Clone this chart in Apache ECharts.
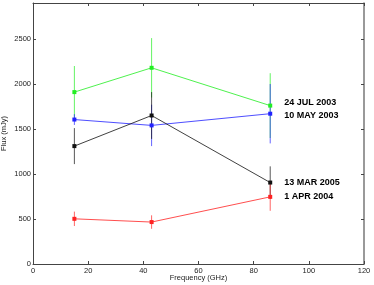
<!DOCTYPE html>
<html><head><meta charset="utf-8">
<script src="https://cdn.jsdelivr.net/npm/echarts@6/dist/echarts.min.js"></script>
<style>html,body{margin:0;padding:0;background:#fff}#c{width:374px;height:285px}</style>
</head><body><div id="c"></div>
<script>
const freqs = [15, 43, 86];
const jul2003 = [1910, 2180, 1760];
const jul2003Err = [290, 330, 360];
const may2003 = [1605, 1540, 1670];
const may2003Err = [60, 230, 330];
const mar2005 = [1310, 1650, 905];
const mar2005Err = [200, 260, 180];
const apr2004 = [502, 466, 746];
const apr2004Err = [80, 75, 155];
const xTicks = [0, 20, 40, 60, 80, 100, 120];
const yTicks = [0, 500, 1000, 1500, 2000, 2500];

const groups = [
  {name: '24 JUL 2003', v: jul2003, e: jul2003Err, color: '#22ee22', off: [0, -3]},
  {name: '10 MAY 2003', v: may2003, e: may2003Err, color: '#2222ff', off: [0, 2]},
  {name: '13 MAR 2005', v: mar2005, e: mar2005Err, color: '#111111', off: [0, 0]},
  {name: '1 APR 2004', v: apr2004, e: apr2004Err, color: '#ff2222', off: [0, 0]}
];
const font = 'Liberation Sans, Arial, sans-serif';
const series = [];
groups.forEach(g => {
  series.push({
    type: 'custom',
    data: freqs.map((f, i) => [f, g.v[i] - g.e[i], g.v[i] + g.e[i]]),
    renderItem: (params, api) => {
      const p1 = api.coord([api.value(0), api.value(1)]);
      const p2 = api.coord([api.value(0), api.value(2)]);
      return {type: 'line', shape: {x1: p1[0], y1: p1[1], x2: p2[0], y2: p2[1]},
        style: {stroke: g.color, lineWidth: 1, opacity: 0.7}};
    },
    z: 2
  });
  series.push({
    type: 'line',
    name: g.name,
    data: freqs.map((f, i) => [f, g.v[i]]),
    symbol: 'rect',
    symbolSize: 4,
    lineStyle: {color: g.color, width: 1, opacity: 0.8},
    itemStyle: {color: g.color, opacity: 1},
    z: 3,
    label: {
      show: true,
      formatter: p => p.dataIndex === freqs.length - 1 ? g.name : '',
      position: 'right',
      distance: 12,
      offset: g.off,
      fontFamily: font,
      fontWeight: 'bold',
      fontSize: 9,
      color: '#000'
    }
  });
});
const tickStyle = {show: true, inside: true, length: 3, lineStyle: {color: '#444'}};
const chart = echarts.init(document.getElementById('c'));
chart.setOption({
  animation: false,
  grid: {left: 33, right: 10, top: 3, bottom: 21, outerBoundsMode: 'none', containLabel: false},
  xAxis: [{
    type: 'value', min: xTicks[0], max: xTicks[xTicks.length - 1], interval: 20,
    name: 'Frequency (GHz)', nameLocation: 'middle', nameGap: 10, nameMoveOverlap: false,
    nameTextStyle: {fontFamily: font, fontSize: 7.5, color: '#222'},
    axisLine: {show: true, onZero: false, lineStyle: {color: '#444', width: 1}},
    axisTick: tickStyle,
    axisLabel: {fontFamily: font, fontSize: 7.5, color: '#222', margin: 3},
    splitLine: {show: false}
  }, {
    type: 'value', position: 'top', min: xTicks[0], max: xTicks[xTicks.length - 1], interval: 20,
    axisLine: {show: true, onZero: false, lineStyle: {color: '#444', width: 1}},
    axisTick: tickStyle,
    axisLabel: {show: false}, splitLine: {show: false}
  }],
  yAxis: [{
    type: 'value', min: 0, max: 2900, interval: 500,
    name: 'Flux (mJy)', nameLocation: 'middle', nameGap: 25, nameMoveOverlap: false,
    nameTextStyle: {fontFamily: font, fontSize: 7.5, color: '#222'},
    axisLine: {show: true, onZero: false, lineStyle: {color: '#444', width: 1}},
    axisTick: tickStyle,
    axisLabel: {fontFamily: font, fontSize: 7.5, color: '#222', margin: 2, showMaxLabel: false,
      formatter: v => yTicks.includes(v) ? String(v) : ''},
    splitLine: {show: false}
  }, {
    type: 'value', position: 'right', min: 0, max: 2900, interval: 500,
    axisLine: {show: true, onZero: false, lineStyle: {color: '#777', width: 1.5}},
    axisTick: tickStyle,
    axisLabel: {show: false}, splitLine: {show: false}
  }],
  series: series
});
</script></body></html>
